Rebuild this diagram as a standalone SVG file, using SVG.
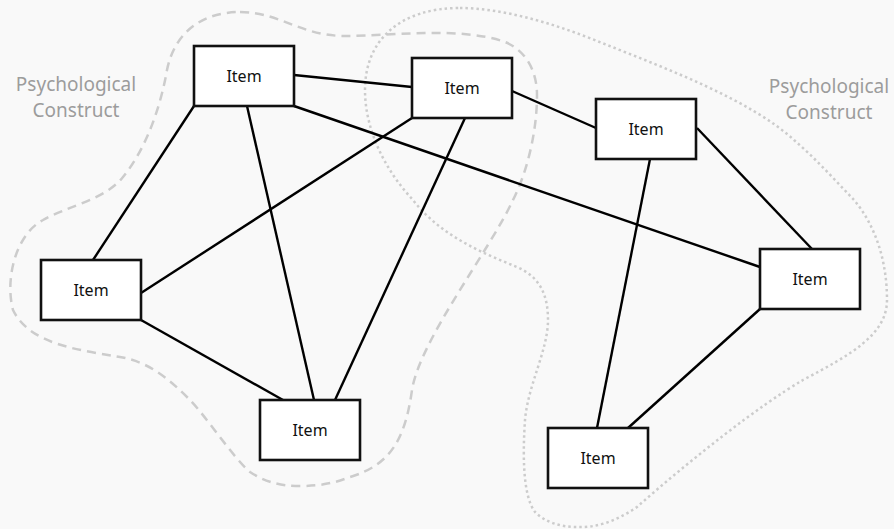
<svg xmlns="http://www.w3.org/2000/svg" width="894" height="529" viewBox="0 0 894 529">
<style>
.bg{fill:#f9f9f9}
.blob{fill:none;stroke:#cccccc;stroke-width:2.5}
.dash{stroke-dasharray:9 6}
.dot{stroke-dasharray:2.5 3}
.lbl{font-family:"Noto Sans","Open Sans",sans-serif;font-size:19px;fill:#9c9c9c;text-anchor:middle}
.node rect{fill:#ffffff;stroke:#111111;stroke-width:2.6}
.node text{font-family:"Noto Sans","Open Sans",sans-serif;font-size:16px;fill:#111111;text-anchor:middle}
.edges line{stroke:#000000;stroke-width:2.4}
</style>
<rect class="bg" x="0" y="0" width="894" height="529"/>
<g id="construct-left">
<path class="blob dash" d="M240,12 C280,12 300,36 345,36 C390,36 460,26 505,42 C525,50 537,70 537,95 C537,130 528,170 513,200 C490,250 420,340 412,390 C405,440 390,465 350,477 C335,483 320,486 300,486 C280,486 265,482 250,472 C235,460 205,415 190,400 C170,380 150,362 120,357 C80,350 30,345 13,310 C5,280 15,235 43,220 C65,207 105,200 123,177 C145,150 160,110 167,70 C175,30 205,12 240,12 Z"/>
<text class="lbl" x="76" y="91">Psychological</text>
<text class="lbl" x="76" y="117">Construct</text>
</g>
<g id="construct-right">
<path class="blob dot" d="M460,8 C500,8 550,22 597,41 C670,70 750,100 794,140 C815,158 835,180 854,200 C875,225 887,260 887,300 C887,335 850,355 803,380 C760,405 690,460 637,507 C615,522 595,528 577,527 C560,527 545,522 535,512 C522,495 523,450 525,420 C528,385 548,350 548,320 C548,295 540,277 517,267 C480,252 440,235 413,200 C385,170 365,130 365,90 C365,40 400,8 460,8 Z"/>
<text class="lbl" x="829" y="93">Psychological</text>
<text class="lbl" x="829" y="119">Construct</text>
</g>
<g class="edges" id="connectors">
<line x1="294" y1="75" x2="412" y2="87"/>
<line x1="194" y1="106" x2="93" y2="260"/>
<line x1="247" y1="106" x2="314" y2="400"/>
<line x1="294" y1="106" x2="760" y2="267"/>
<line x1="412" y1="118" x2="141" y2="293"/>
<line x1="465" y1="118" x2="335" y2="400"/>
<line x1="512" y1="91" x2="596" y2="128"/>
<line x1="650" y1="159" x2="597" y2="428"/>
<line x1="697" y1="128" x2="812" y2="249"/>
<line x1="760" y1="309" x2="628" y2="428"/>
<line x1="141" y1="320" x2="283" y2="400"/>
</g>
<g class="node" id="item-1"><rect x="194" y="46" width="100" height="60"/><text x="244" y="82">Item</text></g>
<g class="node" id="item-2"><rect x="412" y="58" width="100" height="60"/><text x="462" y="94">Item</text></g>
<g class="node" id="item-3"><rect x="596" y="99" width="100" height="60"/><text x="646" y="135">Item</text></g>
<g class="node" id="item-4"><rect x="41" y="260" width="100" height="60"/><text x="91" y="296">Item</text></g>
<g class="node" id="item-5"><rect x="760" y="249" width="100" height="60"/><text x="810" y="285">Item</text></g>
<g class="node" id="item-6"><rect x="260" y="400" width="100" height="60"/><text x="310" y="436">Item</text></g>
<g class="node" id="item-7"><rect x="548" y="428" width="100" height="60"/><text x="598" y="464">Item</text></g>
</svg>
